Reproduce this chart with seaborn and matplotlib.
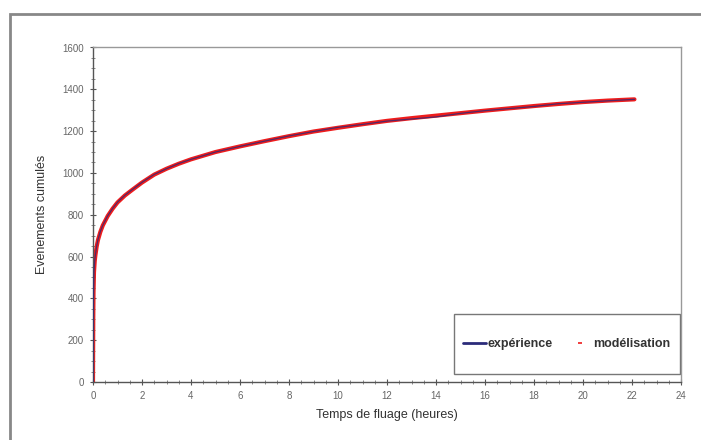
import matplotlib
matplotlib.use("Agg")
import matplotlib.pyplot as plt
import seaborn as sns
import pandas as pd
from matplotlib.lines import Line2D
from matplotlib.patches import Rectangle
from matplotlib.ticker import MultipleLocator

# Data
temps_exp = [0.0, 0.01, 0.02, 0.04, 0.07, 0.1, 0.15, 0.2, 0.3, 0.4, 0.6, 0.8, 1.0, 1.3, 1.6,
             2.0, 2.5, 3.0, 3.5, 4.0, 5.0, 6.0, 7.0, 8.0, 9.0, 10.0, 11.0, 12.0, 13.0,
             14.0, 15.0, 16.0, 17.0, 18.0, 19.0, 20.0, 21.0, 22.1]
evts_exp = [0, 300, 430, 530, 580, 610, 650, 680, 720, 750, 795, 830, 860, 893, 920,
            955, 993, 1020, 1045, 1065, 1100, 1127, 1152, 1177, 1198, 1218, 1232, 1248, 1258,
            1268, 1285, 1298, 1308, 1318, 1331, 1338, 1345, 1352]
temps_mod = temps_exp
evts_mod = [0, 295, 425, 525, 578, 608, 648, 678, 718, 749, 794, 829, 859, 892, 919,
            954, 992, 1020, 1044, 1065, 1100, 1127, 1152, 1176, 1198, 1216, 1233, 1249, 1262,
            1274, 1286, 1298, 1309, 1320, 1330, 1339, 1346, 1352]

x_ticks = list(range(0, 25, 2))
y_ticks = list(range(0, 1601, 200))

df_exp = pd.DataFrame({"t": temps_exp, "n": evts_exp})
df_mod = pd.DataFrame({"t": temps_mod, "n": evts_mod})

sns.set_theme(style="white")
plt.rcParams["font.family"] = ["Liberation Sans", "DejaVu Sans"]

fig = plt.figure(figsize=(7.01, 4.40), dpi=100)
ax = fig.add_axes([93 / 701, 1 - 382 / 440, 588 / 701, 334.5 / 440])

sns.lineplot(data=df_mod, x="t", y="n", ax=ax, color="#ee1c1c", lw=3.0, zorder=2)
sns.lineplot(data=df_exp, x="t", y="n", ax=ax, color="#2b2b7a", lw=0.9, zorder=3, alpha=0.8)

ax.set_xlim(0, 24)
ax.set_ylim(0, 1600)
ax.set_xticks(x_ticks)
ax.set_yticks(y_ticks)
ax.xaxis.set_minor_locator(MultipleLocator(0.5))
ax.yaxis.set_minor_locator(MultipleLocator(50))
ax.tick_params(which="major", direction="inout", length=5, width=0.8, color="#555555",
               labelsize=7, labelcolor="#666666", bottom=True, left=True, pad=4)
ax.tick_params(which="minor", direction="inout", length=3, width=0.6, color="#777777",
               bottom=True, left=True)

for side in ["left", "bottom"]:
    ax.spines[side].set_color("#555555")
    ax.spines[side].set_linewidth(1.0)
for side in ["top", "right"]:
    ax.spines[side].set_color("#999999")
    ax.spines[side].set_linewidth(1.0)

ax.set_xlabel("Temps de fluage (heures)", fontsize=9, color="#333333", labelpad=6)
ax.set_ylabel("Evenements cumulés", fontsize=9, color="#333333", labelpad=10)

handles = [Line2D([], [], color="#2b2b7a", lw=2),
           Line2D([], [], color="#ee1c1c", lw=0, marker="_", markersize=3, markeredgewidth=1.2)]
leg = ax.legend(handles, ["expérience", "modélisation"], ncol=2, loc="center",
                bbox_to_anchor=((567 - 93) / 588, (382 - 344) / 334.5),
                prop={"size": 9, "weight": "bold"}, frameon=False,
                borderpad=0.3, handlelength=1.8, handletextpad=0.15, columnspacing=1.3)
for t in leg.get_texts():
    t.set_color("#333333")
ax.add_patch(Rectangle(((454 - 93) / 588, (382 - 374) / 334.5), 226 / 588, 60 / 334.5,
                       transform=ax.transAxes, fill=True, facecolor="white",
                       edgecolor="#777777", lw=1.0, zorder=4))
leg.set_zorder(5)

fig.patches.append(Rectangle((10 / 701, -0.1), 1.2, 1.1 - 14 / 440, transform=fig.transFigure,
                             fill=False, edgecolor="#888888", lw=2))

fig.savefig("out.png", dpi=100)
